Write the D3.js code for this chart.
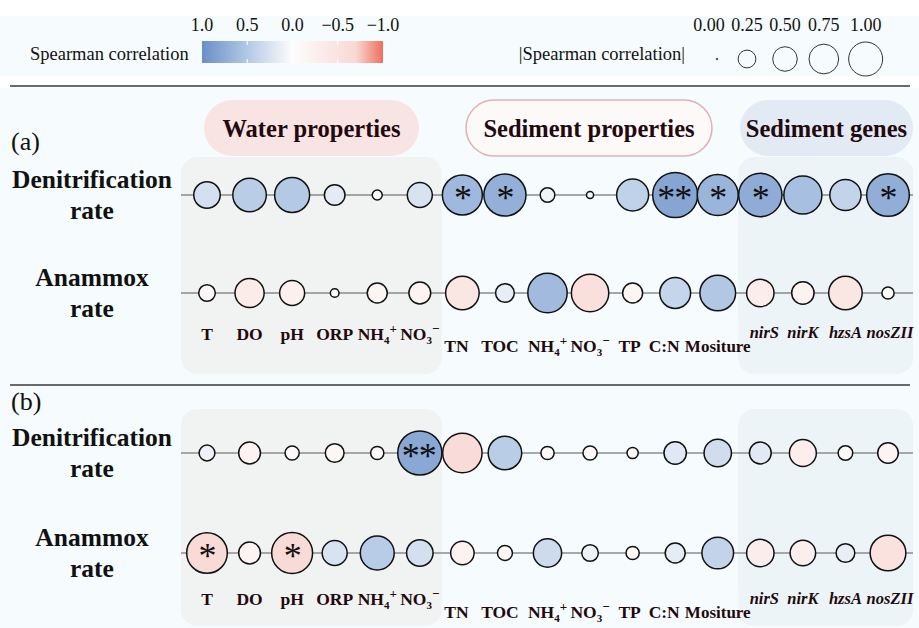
<!DOCTYPE html>
<html lang="en">
<head>
<meta charset="utf-8">
<title>Spearman correlation bubbles</title>
<script src="https://cdn.jsdelivr.net/npm/d3@7"></script>
<style>
  body { margin: 0; background: #ffffff; }
  svg text { font-family: "Liberation Serif", "Times New Roman", serif; }
</style>
</head>
<body>
<script>
// categories along the x axis (NH4+/NO3- appear twice: water and sediment)
var categories = ["T", "DO", "pH", "ORP", "NH4w", "NO3w", "TN", "TOC", "NH4s", "NO3s",
                  "TP", "CN", "Mositure", "nirS", "nirK", "hzsA", "nosZII"];
var tickLabels = ["T", "DO", "pH", "ORP", "NH4+", "NO3-", "TN", "TOC", "NH4+", "NO3-",
                  "TP", "C:N", "Mositure", "nirS", "nirK", "hzsA", "nosZII"];
var categoryGroup = ["water", "water", "water", "water", "water", "water",
                     "sediment", "sediment", "sediment", "sediment", "sediment", "sediment", "sediment",
                     "genes", "genes", "genes", "genes"];
var groupTitles = ["Water properties", "Sediment properties", "Sediment genes"];

// spearman correlations (positive = blue, negative = red)
var denitA = [0.28, 0.45, 0.49, 0.17, 0.04, 0.25, 0.64, 0.71, 0.085, 0.02, 0.41, 0.81, 0.67, 0.75, 0.58, 0.39, 0.73];
var denitASig = ["", "", "", "", "", "", "*", "*", "", "", "", "**", "*", "*", "", "", "*"];
var anamA = [-0.11, -0.34, -0.25, -0.03, -0.16, -0.19, -0.45, 0.14, 0.62, -0.56, -0.16, 0.38, 0.51, -0.30, -0.20, -0.45, -0.06];
var anamASig = ["", "", "", "", "", "", "", "", "", "", "", "", "", "", "", "", ""];
var denitB = [0.10, -0.19, -0.08, -0.14, -0.07, 0.78, -0.62, 0.45, -0.07, -0.08, -0.05, 0.20, 0.30, 0.19, -0.29, -0.085, -0.17];
var denitBSig = ["", "", "", "", "", "**", "", "", "", "", "", "", "", "", "", "", ""];
var anamB = [-0.66, -0.19, -0.67, 0.25, 0.46, 0.28, -0.22, -0.09, 0.32, 0.11, -0.07, 0.16, 0.40, -0.30, -0.26, 0.14, -0.51];
var anamBSig = ["*", "", "*", "", "", "", "", "", "", "", "", "", "", "", "", "", ""];

// legends
var colorTicks = [1.0, 0.5, 0.0, -0.5, -1.0];
var sizeTicks = [0.00, 0.25, 0.50, 0.75, 1.00];

var width = 919, height = 628;

var svg = d3.select("body").append("svg")
  .attr("width", width)
  .attr("height", height);

var x = d3.scalePoint().domain(categories).range([207, 888]);
var r = d3.scaleSqrt().domain([0, 1]).range([0, 25]);
var color = d3.scaleLinear()
  .domain([-1, -0.7, -0.5, 0, 0.5, 1])
  .range(["#ef6e5b", "#f8d8d4", "#fae3e0", "#fdfdfd", "#b3c8e5", "#6a8fc7"]);

var darkText = "#22090e";

/* backgrounds */
svg.append("rect").attr("x", 0).attr("y", 16).attr("width", width).attr("height", 60).attr("fill", "#f6fcfd");
svg.append("rect").attr("x", 0).attr("y", 88).attr("width", width).attr("height", height - 88).attr("fill", "#f6fcfd");

/* ---- colour legend ---- */
var cx = d3.scaleLinear().domain([1, -1]).range([202, 383]);
var grad = svg.append("defs").append("linearGradient").attr("id", "cbar");
d3.range(0, 1.0001, 0.05).forEach(function(t) {
  grad.append("stop").attr("offset", t).attr("stop-color", color(1 - 2 * t));
});
svg.append("rect").attr("x", 202).attr("y", 41).attr("width", 181).attr("height", 22).attr("fill", "url(#cbar)");
svg.selectAll(".cbtick").data([0.5, -0.5]).enter().append("g").each(function(d) {
  var g = d3.select(this);
  g.append("line").attr("x1", cx(d)).attr("x2", cx(d)).attr("y1", 41).attr("y2", 45).attr("stroke", "#fff");
  g.append("line").attr("x1", cx(d)).attr("x2", cx(d)).attr("y1", 59).attr("y2", 63).attr("stroke", "#fff");
});
svg.selectAll(".cblab").data(colorTicks).enter().append("text")
  .attr("x", function(d) { return cx(d); })
  .attr("y", 31)
  .attr("text-anchor", "middle")
  .attr("font-size", 18)
  .attr("fill", "#111")
  .text(function(d) { return d < 0 ? "\u2212" + d3.format(".1f")(-d) : d3.format(".1f")(d); });
svg.append("text").attr("x", 30).attr("y", 60).attr("font-size", 18.5).attr("fill", "#111").text("Spearman correlation");

/* ---- size legend: keys as wide as their label or circle ---- */
var rl = d3.scaleSqrt().domain([0, 1]).range([0.8, 17]);
var keyW = sizeTicks.map(function(d) { return Math.max(32, 2 * rl(d) + 4) + 6; });
var sx = [], pos = 709;
sizeTicks.forEach(function(d, i) {
  if (i > 0) pos += (keyW[i - 1] + keyW[i]) / 2;
  sx.push(pos);
});
svg.selectAll(".szc").data(sizeTicks).enter().append("circle")
  .attr("cx", function(d, i) { return sx[i] + (i === 0 ? 8 : 0); })
  .attr("cy", 59)
  .attr("r", function(d) { return rl(d); })
  .attr("fill", "none")
  .attr("stroke", "#333")
  .attr("stroke-width", 1);
svg.selectAll(".szl").data(sizeTicks).enter().append("text")
  .attr("x", function(d, i) { return sx[i]; })
  .attr("y", 31)
  .attr("text-anchor", "middle")
  .attr("font-size", 18)
  .attr("fill", "#111")
  .text(function(d) { return d3.format(".2f")(d); });
svg.append("text").attr("x", 685).attr("y", 60).attr("text-anchor", "end").attr("font-size", 18.5).attr("fill", "#111")
  .text("|Spearman correlation|");

/* separators */
[86, 385].forEach(function(yy) {
  svg.append("line").attr("x1", 10).attr("x2", 910).attr("y1", yy).attr("y2", yy)
    .attr("stroke", "#3a3a3a").attr("stroke-width", 1.5);
});

/* group extent in pixels */
function groupSpan(g) {
  var idx = categories.filter(function(c, i) { return categoryGroup[i] === g; });
  return [x(idx[0]), x(idx[idx.length - 1])];
}

function drawLabel(sel, s) {
  if (s === "NH4+" || s === "NO3-") {
    sel.text(s.slice(0, 2));
    sel.append("tspan").attr("font-size", 11).attr("dy", 4).text(s.charAt(2));
    sel.append("tspan").attr("font-size", 13).attr("dy", -11).text(s.charAt(3) === "+" ? "+" : "\u2212");
  } else {
    sel.text(s);
  }
}

// small horizontal nudges the original labels have
var labelNudge = { TN: -6, TOC: -5, TP: -3, CN: -11, nirS: 4, nosZII: 2 };

var panels = [
  { tag: "(a)", top: 157, bottom: 374, tagY: 150, pills: true, lineColor: "#555", lineW: 1,
    rows: [ { name: ["Denitrification", "rate"], vals: denitA, sig: denitASig, y: 195 },
            { name: ["Anammox", "rate"], vals: anamA, sig: anamASig, y: 293 } ],
    labelY: { water: 340, sediment: 352, genes: 338 } },
  { tag: "(b)", top: 409, bottom: 626, tagY: 410, pills: false, lineColor: "#8c8c8c", lineW: 1.5,
    rows: [ { name: ["Denitrification", "rate"], vals: denitB, sig: denitBSig, y: 453 },
            { name: ["Anammox", "rate"], vals: anamB, sig: anamBSig, y: 553 } ],
    labelY: { water: 605, sediment: 618, genes: 604 } }
];

panels.forEach(function(p) {
  var gP = svg.append("g");
  // shaded group boxes
  var ws = groupSpan("water"), gs = groupSpan("genes");
  gP.append("rect").attr("x", ws[0] - 26).attr("y", p.top).attr("width", ws[1] - ws[0] + 48)
    .attr("height", p.bottom - p.top).attr("rx", 16).attr("fill", "#f1f3f3");
  gP.append("rect").attr("x", gs[0] - 22).attr("y", p.top).attr("width", gs[1] - gs[0] + 47)
    .attr("height", p.bottom - p.top).attr("rx", 16).attr("fill", "#edf4f8");

  gP.append("text").attr("x", 11).attr("y", p.tagY).attr("font-size", 26).attr("fill", "#111").text(p.tag);

  if (p.pills) {
    var pillInfo = [
      { fill: "#f9e4e4", stroke: "none", x0: 204, x1: 419 },
      { fill: "#fdf9f9", stroke: "#dcb2b9", x0: 466, x1: 712 },
      { fill: "#e2eaf4", stroke: "none", x0: 740, x1: 913 }
    ];
    pillInfo.forEach(function(pi, i) {
      gP.append("rect").attr("x", pi.x0).attr("y", 100).attr("width", pi.x1 - pi.x0).attr("height", 56)
        .attr("rx", 28).attr("fill", pi.fill).attr("stroke", pi.stroke).attr("stroke-width", 1.5);
      gP.append("text").attr("x", (pi.x0 + pi.x1) / 2).attr("y", 137).attr("text-anchor", "middle")
        .attr("font-size", 24.5).attr("font-weight", "bold").attr("fill", darkText).text(groupTitles[i]);
    });
  }

  p.rows.forEach(function(row) {
    var gR = gP.append("g");
    gR.append("text").attr("x", 92).attr("y", row.y - 7).attr("text-anchor", "middle")
      .attr("font-size", 25.5).attr("font-weight", "bold").attr("fill", "#111").text(row.name[0]);
    gR.append("text").attr("x", 92).attr("y", row.y + 24).attr("text-anchor", "middle")
      .attr("font-size", 25.5).attr("font-weight", "bold").attr("fill", "#111").text(row.name[1]);

    gR.append("line").attr("x1", 181).attr("x2", 913).attr("y1", row.y).attr("y2", row.y)
      .attr("stroke", p.lineColor).attr("stroke-width", p.lineW);

    gR.selectAll("circle").data(row.vals).enter().append("circle")
      .attr("cx", function(d, i) { return x(categories[i]); })
      .attr("cy", row.y)
      .attr("r", function(d) { return r(Math.abs(d)); })
      .attr("fill", function(d) { return color(d); })
      .attr("stroke", "#111")
      .attr("stroke-width", 1.5);

    gR.selectAll(".sig").data(row.sig).enter().append("text")
      .attr("x", function(d, i) { return x(categories[i]) + (d.length > 1 ? -1 : 0); })
      .attr("y", row.y + 14.5)
      .attr("text-anchor", "middle")
      .attr("font-size", 36)
      .attr("letter-spacing", -1)
      .attr("fill", "#111")
      .text(function(d) { return d; });
  });

  // category labels
  gP.selectAll(".cat").data(tickLabels).enter().append("text")
    .attr("x", function(d, i) { return x(categories[i]) + (labelNudge[categories[i]] || 0); })
    .attr("y", function(d, i) { return p.labelY[categoryGroup[i]]; })
    .attr("text-anchor", "middle")
    .attr("font-size", function(d, i) {
      if (categoryGroup[i] === "genes") return 16.5;
      return categories[i] === "Mositure" ? 17 : 17.5;
    })
    .attr("font-weight", "bold")
    .attr("font-style", function(d, i) { return categoryGroup[i] === "genes" ? "italic" : "normal"; })
    .attr("fill", darkText)
    .each(function(d) { drawLabel(d3.select(this), d); });
});
</script>
</body>
</html>
